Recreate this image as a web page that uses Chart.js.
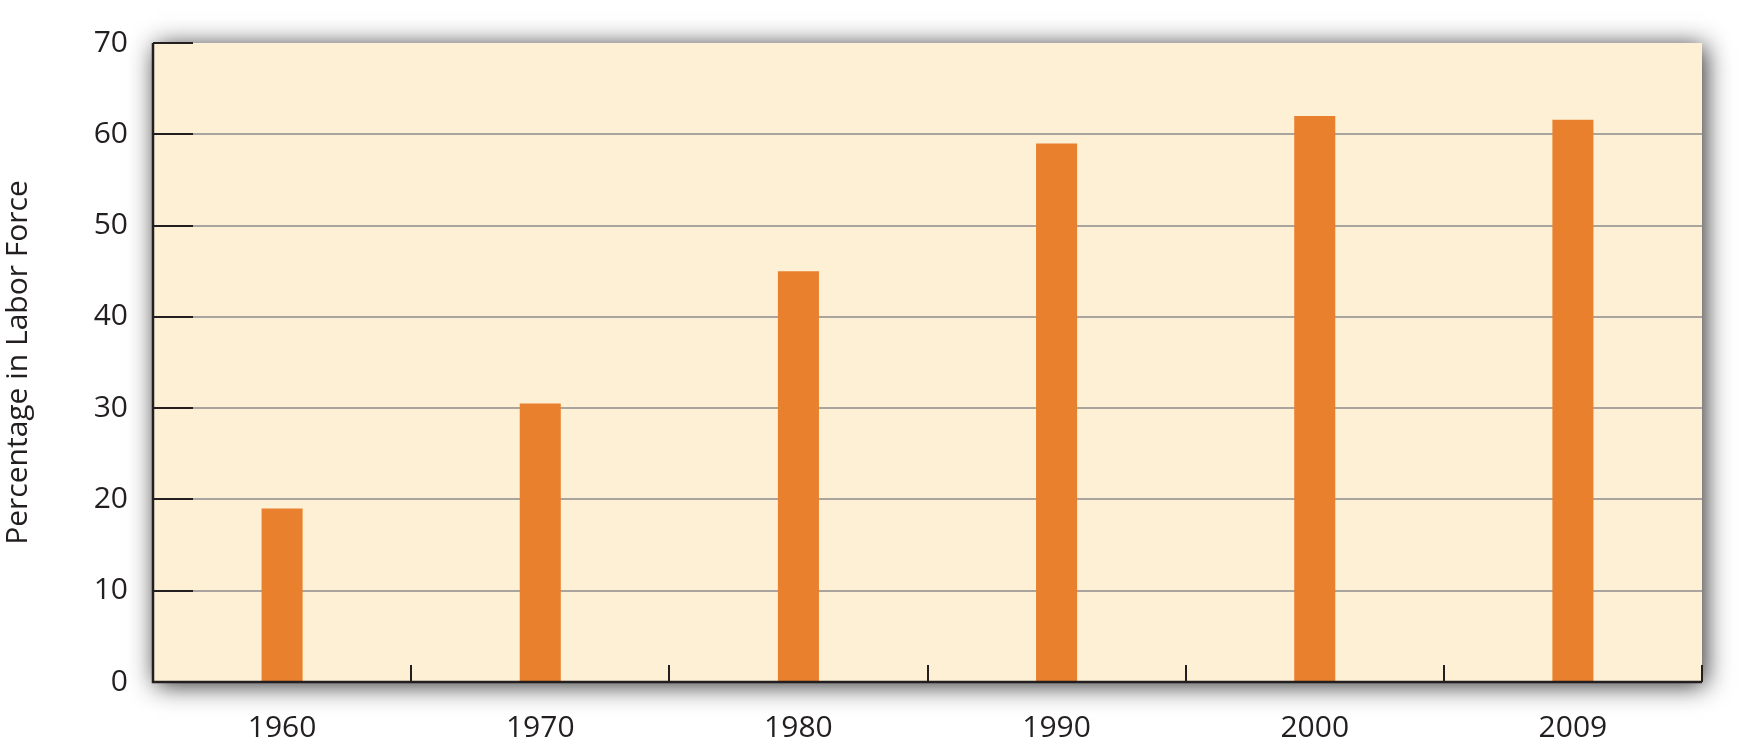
<!DOCTYPE html>
<html>
<head>
<meta charset="utf-8">
<script src="https://cdn.jsdelivr.net/npm/chart.js@4/dist/chart.umd.min.js"></script>
<style>
  html, body { margin: 0; padding: 0; background: #ffffff; }
  #wrap { width: 1741px; height: 746px; }
</style>
</head>
<body>
<div id="wrap"><canvas id="laborChart" width="1741" height="746"></canvas></div>
<script>
// Data
const years = ['1960', '1970', '1980', '1990', '2000', '2009'];
const percentInLaborForce = [19, 30.5, 45, 59, 62, 61.6];
const yTicks = [0, 10, 20, 30, 40, 50, 60, 70];

const inkColor = '#231f20';
const gridColor = '#aaa49e';
const panelColor = '#fef0d5';
const barColor = '#e8802e';

Chart.defaults.font.family = "'Open Sans', sans-serif";
Chart.defaults.color = inkColor;

// cream panel with a soft drop shadow, drawn behind everything
const panelPlugin = {
    id: 'panel',
    beforeDraw(chart) {
        const { ctx, chartArea: a } = chart;
        ctx.save();
        ctx.shadowColor = 'rgba(30, 30, 30, 0.95)';
        ctx.shadowBlur = 24;
        ctx.shadowOffsetX = 3;
        ctx.shadowOffsetY = 3;
        ctx.fillStyle = panelColor;
        ctx.fillRect(a.left, a.top, a.right - a.left, a.bottom - a.top);
        ctx.restore();
    }
};

// short dark tick marks inside the plot, plus the axis lines
const tickPlugin = {
    id: 'innerTicks',
    afterDatasetsDraw(chart) {
        const { ctx, chartArea: a, scales } = chart;
        ctx.save();
        ctx.strokeStyle = inkColor;
        ctx.lineWidth = 2;

        // y ticks, pointing right from the left axis
        scales.y.ticks.forEach((t, i) => {
            const y = Math.round(scales.y.getPixelForTick(i));
            ctx.beginPath();
            ctx.moveTo(a.left, y);
            ctx.lineTo(a.left + 40, y);
            ctx.stroke();
        });

        // x ticks at the category boundaries, pointing up
        for (let i = 1; i <= years.length; i++) {
            const x = Math.round(scales.x.getPixelForValue(i - 0.5));
            ctx.beginPath();
            ctx.moveTo(x, a.bottom);
            ctx.lineTo(x, a.bottom - 17);
            ctx.stroke();
        }

        // axis lines
        ctx.lineWidth = 2.5;
        ctx.beginPath();
        ctx.moveTo(a.left, a.top);
        ctx.lineTo(a.left, a.bottom);
        ctx.lineTo(a.right, a.bottom);
        ctx.stroke();
        ctx.restore();
    }
};

const ctx = document.getElementById('laborChart').getContext('2d');
new Chart(ctx, {
    type: 'bar',
    data: {
        labels: years,
        datasets: [{
            label: 'Percentage in Labor Force',
            data: percentInLaborForce,
            backgroundColor: barColor,
            borderWidth: 0,
            barPercentage: 0.159,
            categoryPercentage: 1.0
        }]
    },
    options: {
        responsive: false,
        animation: false,
        events: [],
        layout: { padding: { top: 42, right: 39, bottom: 0, left: 0 } },
        plugins: {
            legend: { display: false },
            tooltip: { enabled: false }
        },
        scales: {
            x: {
                grid: { display: false, drawTicks: false },
                border: { display: false },
                ticks: {
                    padding: 28,
                    font: { size: 30 },
                    color: inkColor
                },
                afterFit(scale) { scale.height = 64; }
            },
            y: {
                min: 0,
                max: 70,
                afterBuildTicks(scale) {
                    scale.ticks = yTicks.map(v => ({ value: v }));
                },
                grid: {
                    drawTicks: false,
                    lineWidth: 2,
                    color: c => (c.tick && (c.tick.value === 0 || c.tick.value === 70)) ? 'rgba(0,0,0,0)' : gridColor
                },
                border: { display: false },
                ticks: {
                    padding: 25,
                    font: { size: 30 },
                    color: inkColor
                },
                title: {
                    display: true,
                    text: 'Percentage in Labor Force',
                    font: { size: 30 },
                    color: inkColor,
                    padding: { top: 0, bottom: 0 }
                },
                afterFit(scale) { scale.width = 153; }
            }
        }
    },
    plugins: [panelPlugin, tickPlugin]
});
</script>
</body>
</html>
